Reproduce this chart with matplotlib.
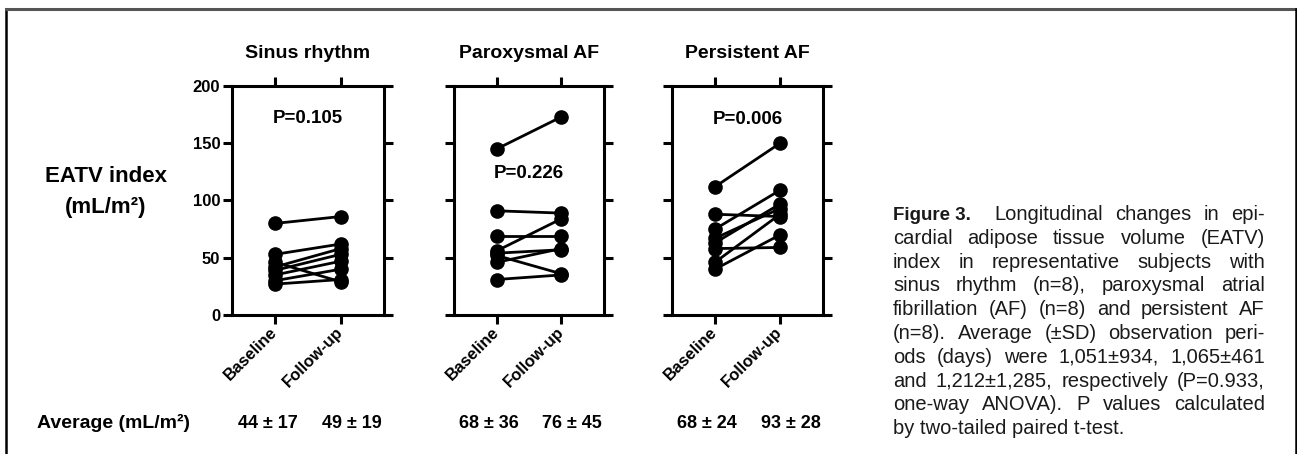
import matplotlib
matplotlib.use("Agg")
import matplotlib.pyplot as plt
from matplotlib.lines import Line2D
from matplotlib.transforms import blended_transform_factory

plt.rcParams['font.family'] = ['Liberation Sans', 'DejaVu Sans']
plt.rcParams['font.weight'] = 'bold'

# data (EATV index, mL/m2)
groups = ['Sinus rhythm', 'Paroxysmal AF', 'Persistent AF']
conditions = ['Baseline', 'Follow-up']
sr_base = [80, 53, 46, 42, 39, 35, 30, 27]
sr_follow = [86, 62, 29, 58, 53, 47, 40, 31]
paf_base = [145, 91, 69, 56, 54, 52, 46, 31]
paf_follow = [173, 89, 69, 84, 57, 36, 58, 35]
peaf_base = [112, 88, 75, 67, 63, 58, 46, 40]
peaf_follow = [150, 86, 109, 93, 97, 59, 88, 70]
p_values = ['P=0.105', 'P=0.226', 'P=0.006']
p_ypos = [172, 124, 171]
averages = [('44 ± 17', '49 ± 19'), ('68 ± 36', '76 ± 45'), ('68 ± 24', '93 ± 28')]
yticks = [0, 50, 100, 150, 200]

caption_lines = [
    "Longitudinal changes in epi-",
    "cardial adipose tissue volume (EATV)",
    "index in representative subjects with",
    "sinus rhythm (n=8), paroxysmal atrial",
    "fibrillation (AF) (n=8) and persistent AF",
    "(n=8). Average (±SD) observation peri-",
    "ods (days) were 1,051±934, 1,065±461",
    "and 1,212±1,285, respectively (P=0.933,",
    "one-way ANOVA). P values calculated",
    "by two-tailed paired t-test.",
]

W, H = 1297, 454
fig = plt.figure(figsize=(W / 100, H / 100), dpi=100)

series = [(sr_base, sr_follow), (paf_base, paf_follow), (peaf_base, peaf_follow)]
lefts = [232, 454, 672]
widths = [152, 150, 151]
bottom_px, top_px = 315, 86

for i, (base, follow) in enumerate(series):
    ax = fig.add_axes([lefts[i] / W, 1 - bottom_px / H, widths[i] / W, (bottom_px - top_px) / H])
    for b, f in zip(base, follow):
        ax.plot([0, 1], [b, f], '-o', color='black', lw=2.0, ms=9.5, clip_on=False)
    ax.set_xlim(-0.66, 1.66)
    ax.set_ylim(0, 200)
    ax.set_yticks(yticks)
    ax.set_xticks([0, 1])
    ax.set_xticklabels(conditions, rotation=45, ha='right', va='center',
                       rotation_mode='anchor', fontsize=12, fontweight='bold')
    for sp in ax.spines.values():
        sp.set_linewidth(2.2)
    ax.tick_params(direction='out', length=6.5, width=2.2, top=True, right=True,
                   labeltop=False, labelright=False, labelsize=12, pad=2)
    ax.tick_params(axis='x', pad=4)
    if i > 0:
        ax.tick_params(labelleft=False)
    ax.text(0.5, p_ypos[i], p_values[i], ha='center', va='center', fontsize=13.5,
            fontweight='bold')
    fig.text((lefts[i] + widths[i] / 2) / W, 1 - 53 / H, groups[i], ha='center',
             va='center', fontsize=14, fontweight='bold')
    tr = blended_transform_factory(ax.transData, fig.transFigure)
    ax.text(-0.12, 1 - 423 / H, averages[i][0], transform=tr, ha='center', va='center',
            fontsize=13, fontweight='bold')
    ax.text(1.17, 1 - 423 / H, averages[i][1], transform=tr, ha='center', va='center',
            fontsize=13, fontweight='bold')

fig.text(106 / W, 1 - 177 / H, 'EATV index', ha='center', va='center', fontsize=16,
         fontweight='bold')
fig.text(106 / W, 1 - 207 / H, '(mL/m²)', ha='center', va='center', fontsize=16,
         fontweight='bold')
fig.text(37 / W, 1 - 423 / H, 'Average (mL/m²)', ha='left', va='center', fontsize=14,
         fontweight='bold')

# outer frame (bottom edge lies outside the crop)
frame_kw = dict(color='black', lw=1.8, transform=fig.transFigure)
fig.add_artist(Line2D([6 / W, 6 / W], [0, 1 - 8.5 / H], **frame_kw))
fig.add_artist(Line2D([6 / W, 1296 / W], [1 - 8.5 / H, 1 - 8.5 / H], color='#555555',
                      lw=2.2, transform=fig.transFigure))
fig.add_artist(Line2D([1296 / W, 1296 / W], [0, 1 - 8.5 / H], **frame_kw))

# justified caption
renderer = fig.canvas.get_renderer()
cap_x0, cap_x1 = 893 / W, 1265 / W
cap_kw = dict(fontsize=14.5, fontweight='normal', color='#1a1a1a', va='baseline', ha='left')


def width_of(t):
    return t.get_window_extent(renderer).width / fig.bbox.width


def justify(words, x0, x1, y):
    texts = [fig.text(x0, y, w, **cap_kw) for w in words]
    ws = [width_of(t) for t in texts]
    gap = (x1 - x0 - sum(ws)) / max(len(words) - 1, 1)
    x = x0
    for t, w in zip(texts, ws):
        t.set_x(x)
        x += w + gap


for k, line in enumerate(caption_lines):
    y = 1 - (220 + 23.8 * k) / H
    if k == 0:
        head = fig.text(cap_x0, y, 'Figure 3.', fontsize=13.5, fontweight='bold',
                        color='#1a1a1a', va='baseline', ha='left')
        start = cap_x0 + width_of(head) + 23 / W
        justify(line.split(), start, cap_x1, y)
    elif k == len(caption_lines) - 1:
        fig.text(cap_x0, y, line, **cap_kw)
    else:
        justify(line.split(), cap_x0, cap_x1, y)

fig.savefig('out.png', dpi=100)
